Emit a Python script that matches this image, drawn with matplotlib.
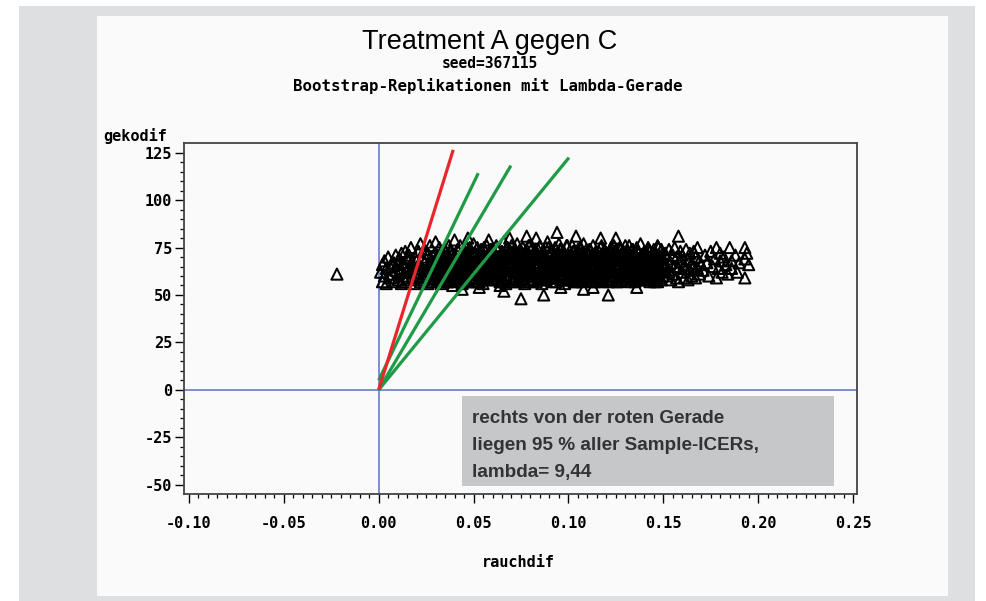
import matplotlib
matplotlib.use("Agg")
import matplotlib.pyplot as plt
from matplotlib.patches import Rectangle
import numpy as np

# ---------------- data ----------------
title = "Treatment A gegen C"
subtitle1 = "seed=367115"
subtitle2 = "Bootstrap-Replikationen mit Lambda-Gerade"
xlabel = "rauchdif"
ylabel = "gekodif"
note_lines = ["rechts von der roten Gerade", "liegen 95 % aller Sample-ICERs,", "lambda= 9,44"]

x_ticks = [-0.10, -0.05, 0.00, 0.05, 0.10, 0.15, 0.20, 0.25]
x_ticklabels = ["-0.10", "-0.05", "0.00", "0.05", "0.10", "0.15", "0.20", "0.25"]
y_ticks = [-50, -25, 0, 25, 50, 75, 100, 125]
y_ticklabels = ["-50", "-25", "0", "25", "50", "75", "100", "125"]

# bootstrap replications (rauchdif, gekodif)
rauchdif = [
    -0.022,
    0.001,0.002,0.002,0.003,0.003,0.004,0.004,0.005,0.006,0.006,0.007,0.008,0.008,0.009,0.009,0.010,0.010,0.011,0.011,0.012,0.012,0.012,
    0.013,0.013,0.014,0.014,0.015,0.015,0.015,0.016,0.016,0.017,0.017,0.017,0.018,0.018,0.019,0.019,0.019,0.020,0.020,0.021,0.021,0.021,
    0.022,0.022,0.023,0.023,0.023,0.024,0.024,0.024,0.025,0.025,0.026,0.026,0.026,0.027,0.027,0.027,0.028,0.028,0.028,0.029,0.029,0.029,0.030,0.030,
    .031,.031,.031,.032,.032,.032,.033,.033,.033,.034,.034,.034,.035,.035,.035,.036,.036,.036,.037,.037,.037,.038,.038,.038,.039,.039,.039,.040,.040,.040,
    .041,.041,.041,.042,.042,.042,.043,.043,.043,.044,.044,.044,.045,.045,.045,.046,.046,.046,.047,.047,.047,.048,.048,.048,.049,.049,.049,.050,.050,.050,.044,.047,
    .051,.051,.051,.052,.052,.052,.053,.053,.053,.054,.054,.054,.055,.055,.055,.056,.056,.056,.057,.057,.057,.058,.058,.058,.059,.059,.059,.060,.060,.060,.053,.058,
    .061,.061,.061,.062,.062,.062,.063,.063,.063,.064,.064,.064,.065,.065,.065,.066,.066,.066,.067,.067,.067,.068,.068,.068,.069,.069,.069,.070,.070,.070,.066,.069,.064,
    .071,.071,.071,.072,.072,.072,.073,.073,.073,.074,.074,.074,.075,.075,.075,.076,.076,.076,.077,.077,.077,.078,.078,.078,.079,.079,.079,.080,.080,.080,.075,.078,
    .081,.081,.081,.082,.082,.082,.083,.083,.083,.084,.084,.084,.085,.085,.085,.086,.086,.086,.087,.087,.087,.088,.088,.088,.089,.089,.089,.090,.090,.090,.087,.083,
    .091,.091,.091,.092,.092,.092,.093,.093,.093,.094,.094,.094,.095,.095,.095,.096,.096,.096,.097,.097,.097,.098,.098,.098,.099,.099,.099,.100,.100,.100,.094,.096,
    .101,.101,.101,.102,.102,.102,.103,.103,.103,.104,.104,.104,.105,.105,.105,.106,.106,.106,.107,.107,.107,.108,.108,.108,.109,.109,.109,.110,.110,.110,.104,.108,
    .111,.111,.111,.112,.112,.112,.113,.113,.113,.114,.114,.114,.115,.115,.115,.116,.116,.116,.117,.117,.117,.118,.118,.118,.119,.119,.119,.120,.120,.120,.113,.117,
    .121,.121,.121,.122,.122,.122,.123,.123,.123,.124,.124,.124,.125,.125,.125,.126,.126,.126,.127,.127,.127,.128,.128,.128,.129,.129,.129,.130,.130,.130,.121,.125,
    .131,.131,.131,.132,.132,.132,.133,.133,.133,.134,.134,.134,.135,.135,.135,.136,.136,.136,.137,.137,.137,.138,.138,.138,.139,.139,.139,.140,.140,.140,.136,
    .141,.141,.141,.142,.142,.142,.143,.143,.143,.144,.144,.144,.145,.145,.145,.146,.146,.146,.147,.147,.147,.148,.148,.148,.149,.149,.149,.150,.150,.150,
    .151,.151,.152,.152,.153,.153,.154,.154,.155,.155,.156,.156,.157,.157,.158,.158,.158,.159,.159,.160,.160,.161,.161,.162,.162,.163,.163,.164,.164,.165,
    .165,.166,.166,.167,.167,.168,.168,.169,.169,.170,
    .171,.172,.173,.174,.175,.176,.177,.178,.178,.179,.180,.180,.181,.182,.183,.184,.185,.186,.186,.188,.189,.190,.193,.193,.193,.194,.195,
    .0305,.0305,.0315,.0315,.0325,.0325,.0335,.0335,.0345,.0345,.0355,.0355,.0365,.0365,.0375,.0375,.0385,.0385,.0395,.0395,
    .0405,.0405,.0415,.0415,.0425,.0425,.0435,.0435,.0445,.0445,.0455,.0455,.0465,.0465,.0475,.0475,.0485,.0485,.0495,.0495,
    .0505,.0505,.0515,.0515,.0525,.0525,.0535,.0535,.0545,.0545,.0555,.0555,.0565,.0565,.0575,.0575,.0585,.0585,.0595,.0595,
    .0605,.0605,.0615,.0615,.0625,.0625,.0635,.0635,.0645,.0645,.0655,.0655,.0665,.0665,.0675,.0675,.0685,.0685,.0695,.0695,
    .0705,.0705,.0715,.0715,.0725,.0725,.0735,.0735,.0745,.0745,.0755,.0755,.0765,.0765,.0775,.0775,.0785,.0785,.0795,.0795,
    .0805,.0805,.0815,.0815,.0825,.0825,.0835,.0835,.0845,.0845,.0855,.0855,.0865,.0865,.0875,.0875,.0885,.0885,.0895,.0895,
    .0905,.0905,.0915,.0915,.0925,.0925,.0935,.0935,.0945,.0945,.0955,.0955,.0965,.0965,.0975,.0975,.0985,.0985,.0995,.0995,
    .1005,.1005,.1015,.1015,.1025,.1025,.1035,.1035,.1045,.1045,.1055,.1055,.1065,.1065,.1075,.1075,.1085,.1085,.1095,.1095,
    .1105,.1105,.1115,.1115,.1125,.1125,.1135,.1135,.1145,.1145,.1155,.1155,.1165,.1165,.1175,.1175,.1185,.1185,.1195,.1195,
    .1205,.1205,.1215,.1215,.1225,.1225,.1235,.1235,.1245,.1245,.1255,.1255,.1265,.1265,.1275,.1275,.1285,.1285,.1295,.1295,
    .1305,.1305,.1315,.1315,.1325,.1325,.1335,.1335,.1345,.1345,.1355,.1355,.1365,.1365,.1375,.1375,.1385,.1385,.1395,.1395,
    .1405,.1405,.1415,.1415,.1425,.1425,.1435,.1435,.1445,.1445,.1455,.1455,.1465,.1465,.1475,.1475,.1485,.1485,.1495,.1495,
]
gekodif = [
    61,
    62,57,66,60,68,64,56,70,59,65,61,67,57,63,71,58,66,62,69,56,64,72,
    60,67,57,73,63,69,59,65,71,58,62,75,66,60,70,56,64,68,59,73,62,66,
    57,77,64,70,60,67,58,74,63,69,56,61,72,65,59,76,62,68,57,71,64,60,67,78,
    64,58,71,67,61,75,56,69,63,72,60,66,59,74,65,68,57,62,76,63,70,58,66,73,61,67,55,71,64,79,
    62,69,57,73,65,59,67,76,60,63,71,56,68,61,74,58,66,72,64,57,70,75,62,68,59,66,73,61,77,64,53,80,
    66,59,72,62,75,69,57,64,71,67,60,74,63,70,56,73,65,59,68,61,76,58,66,71,63,69,74,60,67,72,54,79,
    65,72,58,69,61,76,63,67,74,57,70,62,66,73,59,68,64,78,61,71,56,67,75,63,60,69,72,65,58,76,52,80,55,
    70,63,57,66,74,60,68,62,77,71,65,58,73,61,67,59,69,75,64,72,56,66,60,74,68,63,76,70,57,65,48,81,
    62,69,75,58,66,72,64,70,57,61,74,67,69,59,76,65,71,56,63,73,60,68,58,75,66,62,78,71,64,59,50,80,
    67,60,73,64,70,57,75,62,68,59,66,72,63,77,69,58,65,74,70,61,67,56,72,64,69,60,76,63,71,58,83,54,
    65,71,59,62,76,68,57,66,73,70,63,60,74,67,58,61,69,75,64,72,57,68,62,77,59,66,71,73,64,60,81,53,
    68,61,74,65,71,58,63,76,69,57,66,72,70,60,64,73,67,59,62,75,69,65,57,71,74,61,67,58,70,64,54,80,
    63,70,57,67,74,60,72,65,58,69,62,76,66,59,73,71,64,57,68,61,75,63,70,58,66,73,60,69,62,76,50,80,
    66,73,59,62,69,76,71,58,64,67,60,74,63,70,57,75,65,61,68,72,58,64,77,60,70,63,67,59,73,66,54,
    64,71,58,68,61,75,66,73,57,70,63,60,74,67,59,62,72,65,69,57,76,64,60,71,67,74,58,62,69,65,
    66,72,60,69,74,63,58,67,71,61,65,75,59,70,81,64,57,68,73,62,71,66,59,74,64,69,58,72,63,67,
    60,73,65,59,70,64,75,61,68,66,
    63,71,67,60,73,65,69,59,75,64,68,72,62,70,66,61,75,64,68,71,62,67,75,59,69,72,66,
    61,70,66,58,72,63,59,68,64,74,69,60,57,65,73,62,62,71,67,59,
    60,68,74,63,58,66,70,61,65,73,59,69,63,75,68,57,71,64,62,67,
    64,72,57,67,69,61,73,60,66,58,62,75,70,64,59,68,65,71,74,61,
    68,59,63,71,60,74,66,62,72,57,67,64,61,69,75,58,63,70,66,73,
    59,67,72,64,62,70,57,68,65,74,71,60,64,58,69,73,61,66,76,63,
    66,61,70,58,74,65,60,72,63,67,58,69,73,62,66,71,59,64,68,75,
    62,73,65,59,68,71,64,57,70,66,61,74,67,60,72,63,58,69,65,76,
    70,64,58,67,73,61,69,65,57,72,66,62,75,59,63,70,68,60,74,66,
    63,69,74,60,66,57,71,64,68,73,59,65,62,70,76,61,67,58,64,72,
    67,58,62,71,64,75,60,68,73,63,70,57,66,61,69,74,62,65,59,71,
    61,72,68,63,57,66,74,59,64,70,65,61,73,67,58,62,71,69,60,66,
    65,60,71,67,62,74,58,69,66,63,72,57,68,64,61,75,59,70,63,67,
]

# lambda lines (start point, end point)
red_line_x = [0.0, 0.0393]
red_line_y = [0.0, 126.5]
green_lines_x = [[0.0, 0.0525], [0.0, 0.0697], [0.0, 0.1003]]
green_lines_y = [[5.0, 114.2], [0.0, 118.2], [0.0, 122.4]]

# ---------------- figure ----------------
W, H = 986, 601
fig = plt.figure(figsize=(W / 100, H / 100), dpi=100)
fig.patch.set_facecolor("white")

def fx(px):
    return px / W

def fy(py):
    return 1 - py / H

# outer grey frame and inner panel
fig.patches.append(Rectangle((fx(19), 0), fx(975) - fx(19), fy(6), transform=fig.transFigure,
                             facecolor="#dedfe1", edgecolor="none", zorder=-10))
fig.patches.append(Rectangle((fx(97), fy(596)), fx(948) - fx(97), fy(16) - fy(596), transform=fig.transFigure,
                             facecolor="#f9faf9", edgecolor="none", zorder=-9))

ax = fig.add_axes([fx(184), fy(494), fx(857) - fx(184), fy(143) - fy(494)])
ax.set_facecolor("#f9faf9")
ax.set_xlim(-0.1026, 0.2521)
ax.set_ylim(-54.9, 130.1)

ax.axvline(0, color="#5f72c2", lw=1.1, zorder=1)
ax.axhline(0, color="#5f72c2", lw=1.1, zorder=1)

ax.scatter(rauchdif, gekodif, marker="^", s=64, facecolors="none", edgecolors="black",
           linewidths=1.45, zorder=2)

ax.plot(red_line_x, red_line_y, color="#e8262b", lw=2.3, solid_capstyle="butt", zorder=4)
for gx, gy in zip(green_lines_x, green_lines_y):
    ax.plot(gx, gy, color="#1f9a46", lw=2.3, solid_capstyle="butt", zorder=3)

# note box
ax.add_patch(Rectangle((0.0439, -50.7), 0.240 - 0.0439, 47.5, facecolor="#c6c7c9",
                       edgecolor="none", zorder=5))
note_y = [-17.6, -31.7, -45.9]
for txt, yy in zip(note_lines, note_y):
    ax.text(0.0494, yy, txt, fontsize=13.6, fontweight="bold", family="Liberation Sans",
            color="#333333", va="baseline", ha="left", zorder=6)

mono = "DejaVu Sans Mono"
ax.set_xticks(x_ticks)
ax.set_xticklabels(x_ticklabels, fontsize=11, fontweight="bold", family=mono)
ax.set_yticks(y_ticks)
ax.set_yticklabels(y_ticklabels, fontsize=11, fontweight="bold", family=mono)
ax.set_xticks(np.arange(-0.10, 0.2501, 0.005), minor=True)
ax.set_yticks(np.arange(-50, 126, 5), minor=True)
ax.tick_params(which="major", direction="out", length=6.5, width=1.0, color="black")
ax.tick_params(which="minor", direction="out", length=3.0, width=0.9, color="black")
ax.tick_params(axis="x", which="major", pad=9)
ax.tick_params(axis="y", which="major", pad=2)
for sp in ax.spines.values():
    sp.set_color("#444444")
    sp.set_linewidth(1.3)

# titles and labels
fig.text(fx(490), fy(49), title, fontsize=19.5, family="Liberation Sans", ha="center", va="baseline")
fig.text(fx(490), fy(68), subtitle1, fontsize=10.5, fontweight="bold", family=mono, ha="center", va="baseline")
fig.text(fx(488), fy(91), subtitle2, fontsize=11.3, fontweight="bold", family=mono, ha="center", va="baseline")
fig.text(fx(103), fy(141), ylabel, fontsize=11, fontweight="bold", family=mono, ha="left", va="baseline")
fig.text(fx(518), fy(567), xlabel, fontsize=11, fontweight="bold", family=mono, ha="center", va="baseline")

fig.savefig("out.png", dpi=100)
